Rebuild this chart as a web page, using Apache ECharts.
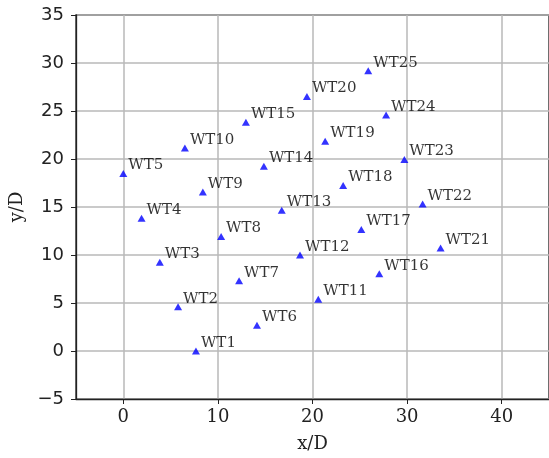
<!DOCTYPE html>
<html>
<head>
<meta charset="utf-8">
<script src="https://cdn.jsdelivr.net/npm/echarts@6/dist/echarts.min.js"></script>
<style>html,body{margin:0;padding:0;background:#fff}#c{width:549px;height:458px}</style>
</head>
<body>
<div id="c"></div>
<script>
const names = ['WT1','WT2','WT3','WT4','WT5','WT6','WT7','WT8','WT9','WT10','WT11','WT12','WT13','WT14','WT15','WT16','WT17','WT18','WT19','WT20','WT21','WT22','WT23','WT24','WT25'];
const xs = [7.68,5.79,3.86,1.93,0.0,14.13,12.24,10.34,8.41,6.51,20.61,18.68,16.75,14.86,12.96,27.06,25.16,23.24,21.34,19.41,33.54,31.64,29.71,27.78,25.89];
const ys = [0.0,4.62,9.24,13.83,18.48,2.69,7.31,11.93,16.55,21.14,5.38,10.0,14.65,19.24,23.83,8.04,12.66,17.24,21.86,26.51,10.72,15.31,19.96,24.58,29.2];
const xTicks = [0,10,20,30,40];
const yTicks = [-5,0,5,10,15,20,25,30,35];

const chart = echarts.init(document.getElementById('c'), null, {renderer:'canvas'});
const data = names.map((n,i)=>[xs[i], ys[i], n]);
const fmt = v => v < 0 ? '\u2212' + Math.abs(v) : String(v);
chart.setOption({
  animation:false,
  backgroundColor:'#fff',
  grid:{left:75, top:15, right:-10, bottom:56, show:true, borderColor:'#222', borderWidth:1.3, backgroundColor:'transparent'},
  xAxis:{
    type:'value', min:-5, max:45,
    name:'x/D', nameLocation:'middle', nameGap:36,
    nameTextStyle:{fontFamily:'DejaVu Serif', fontSize:18, color:'#222'},
    axisLine:{show:true, onZero:false, lineStyle:{color:'#222', width:1.3}},
    axisTick:{show:true, length:5, customValues:xTicks, lineStyle:{color:'#222'}},
    axisLabel:{customValues:xTicks, margin:9, fontFamily:'DejaVu Serif', fontSize:18, color:'#222', formatter:fmt},
    splitLine:{show:true, lineStyle:{color:'#b8b8b8', width:1.5}}
  },
  yAxis:{
    type:'value', min:-5, max:35, interval:5,
    name:'y/D', nameLocation:'middle', nameGap:50, nameRotate:90,
    nameTextStyle:{fontFamily:'DejaVu Serif', fontSize:18, color:'#222'},
    axisLine:{show:true, onZero:false, lineStyle:{color:'#222', width:1.3}},
    axisTick:{show:true, length:5, lineStyle:{color:'#222'}},
    axisLabel:{margin:12, fontFamily:'DejaVu Sans', fontSize:18, color:'#222', formatter:fmt},
    splitLine:{show:true, lineStyle:{color:'#b8b8b8', width:1.5}}
  },
  series:[{
    type:'scatter',
    symbol:'triangle',
    symbolSize:[8,7],
    itemStyle:{color:'#0000ff'},
    data:data,
    label:{
      show:true, position:'right', distance:1, offset:[0,-8],
      formatter:p=>p.data[2],
      fontFamily:'DejaVu Serif', fontSize:15, color:'#000'
    }
  }]
});
</script>
</body>
</html>
